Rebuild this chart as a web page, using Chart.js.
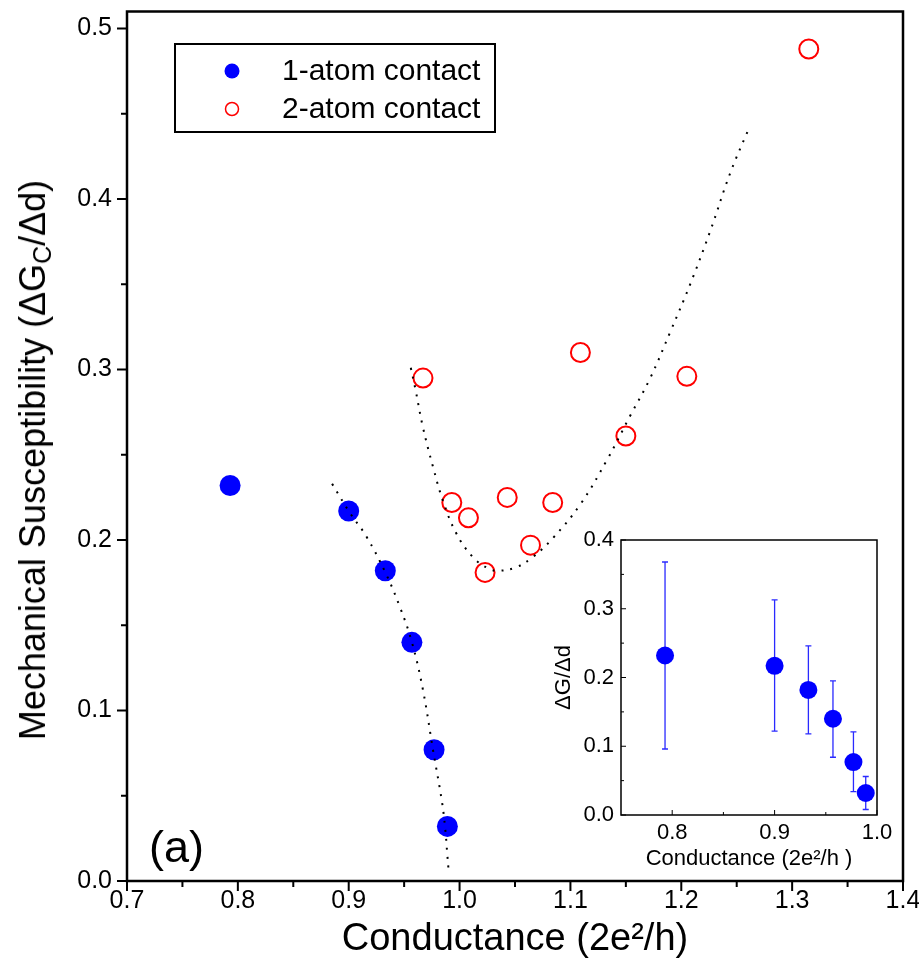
<!DOCTYPE html>
<html lang="en">
<head>
<meta charset="utf-8">
<title>Mechanical susceptibility vs conductance</title>
<script src="https://cdn.jsdelivr.net/npm/chart.js@4.4.1/dist/chart.umd.min.js"></script>
<style>
    html, body { margin: 0; padding: 0; background: #fff; }
    #wrap { position: relative; width: 919px; height: 973px; overflow: hidden; font-family: "Liberation Sans", Arial, sans-serif; color: #000; }
    #mainChart, #insetChart { position: absolute; }
    #mainChart { left: 0; top: 0; }
    #insetChart { left: 545px; top: 520px; }
    #yTitle { position: absolute; left: 33px; top: 460px; transform: translate(-50%, -50%) rotate(-90deg); font-size: 36px; line-height: 1; white-space: nowrap; }
    #yTitle sub { font-size: 25px; vertical-align: -6px; line-height: 0; }
    #panelLabel { position: absolute; left: 149px; top: 824px; font-size: 45px; line-height: 1; }
</style>
</head>
<body>
<div id="wrap">
    <canvas id="mainChart" width="919" height="973"></canvas>
    <canvas id="insetChart" width="350" height="360"></canvas>
    <div id="yTitle">Mechanical Susceptibility (ΔG<sub>C</sub>/Δd)</div>
    <div id="panelLabel">(a)</div>
</div>
<script>
// ---- data ----
// 1-atom contacts: conductance (2e^2/h) and susceptibility
const oneAtomG = [0.793, 0.900, 0.933, 0.957, 0.977, 0.989];
const oneAtomS = [0.232, 0.217, 0.182, 0.140, 0.077, 0.032];
// spread of the 1-atom values (inset error bars)
const oneAtomLow  = [0.096, 0.122, 0.118, 0.084, 0.034, 0.008];
const oneAtomHigh = [0.368, 0.313, 0.246, 0.195, 0.121, 0.056];

// 2-atom contacts
const twoAtomG = [0.967, 0.993, 1.008, 1.023, 1.043, 1.064, 1.084, 1.109, 1.150, 1.205, 1.315];
const twoAtomS = [0.295, 0.222, 0.213, 0.181, 0.225, 0.197, 0.222, 0.310, 0.261, 0.296, 0.488];

// dotted guide curves
const fitOneG = [0.885, 0.901, 0.916, 0.933, 0.946, 0.957, 0.967, 0.976, 0.984, 0.987, 0.989, 0.990];
const fitOneS = [0.233, 0.216, 0.202, 0.181, 0.161, 0.140, 0.112, 0.077, 0.047, 0.031, 0.015, 0.007];
const fitTwoG = [0.956, 0.960, 0.967, 0.976, 0.985, 0.997, 1.012, 1.027, 1.036, 1.051, 1.066, 1.084,
                 1.109, 1.133, 1.154, 1.172, 1.190, 1.208, 1.226, 1.244, 1.262];
const fitTwoS = [0.301, 0.289, 0.266, 0.243, 0.223, 0.204, 0.190, 0.183, 0.182, 0.184, 0.190, 0.201,
                 0.221, 0.247, 0.273, 0.295, 0.322, 0.350, 0.381, 0.415, 0.443];

// tick values
const mainXTicks = [0.7, 0.8, 0.9, 1.0, 1.1, 1.2, 1.3, 1.4];
const mainXMinor = [0.75, 0.85, 0.95, 1.05, 1.15, 1.25, 1.35];
const mainYTicks = [0.0, 0.1, 0.2, 0.3, 0.4, 0.5];
const mainYMinor = [0.05, 0.15, 0.25, 0.35, 0.45];
const insetXTicks = [0.8, 0.9, 1.0];
const insetXMinor = [0.85, 0.95];
const insetYTicks = [0.0, 0.1, 0.2, 0.3, 0.4];
const insetYMinor = [0.05, 0.15, 0.25, 0.35];

const toPoints = (xs, ys) => xs.map((x, i) => ({ x: x, y: ys[i] }));
const fmt = v => Number(v).toFixed(1);

Chart.defaults.font.family = '"Liberation Sans", Arial, sans-serif';
Chart.defaults.color = '#000';

// ---- plugins ----

// box around the plot area plus major/minor tick marks
const axisFrame = {
    id: 'axisFrame',
    afterDraw(chart, args, opts) {
        const { ctx, chartArea: a, scales: { x, y } } = chart;
        const dir = opts.inside ? -1 : 1;
        ctx.save();
        ctx.strokeStyle = '#000';
        ctx.lineWidth = opts.tickWidth;
        ctx.beginPath();
        const tickX = (vals, len) => vals.forEach(v => {
            const px = x.getPixelForValue(v);
            ctx.moveTo(px, a.bottom);
            ctx.lineTo(px, a.bottom + dir * len);
        });
        const tickY = (vals, len) => vals.forEach(v => {
            const py = y.getPixelForValue(v);
            ctx.moveTo(a.left, py);
            ctx.lineTo(a.left - dir * len, py);
        });
        tickX(opts.xMajor, opts.majorLen);
        tickX(opts.xMinor, opts.minorLen);
        tickY(opts.yMajor, opts.majorLen);
        tickY(opts.yMinor, opts.minorLen);
        ctx.stroke();
        ctx.lineWidth = opts.frameWidth;
        ctx.strokeRect(a.left, a.top, a.right - a.left, a.bottom - a.top);
        ctx.restore();
    }
};

// framed legend inside the plot
const boxLegend = {
    id: 'boxLegend',
    afterDraw(chart, args, opts) {
        const ctx = chart.ctx;
        const items = chart.data.datasets.filter(d => !d.isGuide);
        ctx.save();
        ctx.strokeStyle = '#000';
        ctx.lineWidth = 2;
        ctx.strokeRect(opts.left, opts.top, opts.width, opts.height);
        ctx.font = opts.fontSize + 'px "Liberation Sans", Arial, sans-serif';
        ctx.textBaseline = 'middle';
        ctx.fillStyle = '#000';
        items.forEach((d, i) => {
            const cy = opts.firstRow + i * opts.rowGap;
            ctx.beginPath();
            if (d.pointBorderWidth > 0) {
                ctx.arc(opts.markerX, cy, opts.openRadius, 0, Math.PI * 2);
                ctx.strokeStyle = d.pointBorderColor;
                ctx.lineWidth = 1.5;
                ctx.stroke();
            } else {
                ctx.arc(opts.markerX, cy, opts.filledRadius, 0, Math.PI * 2);
                ctx.fillStyle = d.pointBackgroundColor;
                ctx.fill();
            }
            ctx.fillStyle = '#000';
            ctx.fillText(d.label, opts.textX, cy + 1);
        });
        ctx.restore();
    }
};

// vertical error bars with small caps
const errorBars = {
    id: 'errorBars',
    beforeDatasetsDraw(chart, args, opts) {
        const { ctx, scales: { x, y } } = chart;
        ctx.save();
        ctx.strokeStyle = opts.color;
        ctx.lineWidth = opts.width;
        ctx.beginPath();
        opts.xs.forEach((g, i) => {
            const px = x.getPixelForValue(g);
            const lo = y.getPixelForValue(opts.low[i]);
            const hi = y.getPixelForValue(opts.high[i]);
            ctx.moveTo(px, lo); ctx.lineTo(px, hi);
            ctx.moveTo(px - opts.cap, lo); ctx.lineTo(px + opts.cap, lo);
            ctx.moveTo(px - opts.cap, hi); ctx.lineTo(px + opts.cap, hi);
        });
        ctx.stroke();
        ctx.restore();
    }
};

// ---- main plot ----
new Chart(document.getElementById('mainChart'), {
    type: 'scatter',
    data: {
        datasets: [
            {
                label: 'fit 1', isGuide: true,
                data: toPoints(fitOneG, fitOneS),
                showLine: true, fill: false, tension: 0.4,
                borderColor: '#000', borderWidth: 2, borderDash: [2, 7],
                pointRadius: 0, order: 0
            },
            {
                label: 'fit 2', isGuide: true,
                data: toPoints(fitTwoG, fitTwoS),
                showLine: true, fill: false, tension: 0.4,
                borderColor: '#000', borderWidth: 2, borderDash: [2, 7],
                pointRadius: 0, order: 0
            },
            {
                label: '1-atom contact',
                data: toPoints(oneAtomG, oneAtomS),
                pointRadius: 10.5, pointBackgroundColor: '#0000ff',
                pointBorderColor: '#0000ff', pointBorderWidth: 0, order: 1
            },
            {
                label: '2-atom contact',
                data: toPoints(twoAtomG, twoAtomS),
                pointRadius: 9.5, pointBackgroundColor: 'rgba(0,0,0,0)',
                pointBorderColor: '#ff0000', pointBorderWidth: 2, order: 1
            }
        ]
    },
    options: {
        responsive: false,
        animation: false,
        devicePixelRatio: 1,
        layout: { padding: { top: 10, right: 16, bottom: 0, left: 0 } },
        plugins: {
            legend: { display: false },
            tooltip: { enabled: false },
            axisFrame: {
                frameWidth: 2.5, tickWidth: 2, majorLen: 10, minorLen: 6, inside: false,
                xMajor: mainXTicks, xMinor: mainXMinor, yMajor: mainYTicks, yMinor: mainYMinor
            },
            boxLegend: {
                left: 175, top: 44, width: 320, height: 88, fontSize: 30,
                markerX: 232, textX: 282, firstRow: 71, rowGap: 38,
                filledRadius: 7.5, openRadius: 6.5
            }
        },
        scales: {
            x: {
                type: 'linear', min: 0.7, max: 1.4,
                grid: { display: false, drawTicks: false },
                border: { display: false },
                ticks: { padding: 5, font: { size: 25 }, callback: fmt },
                afterBuildTicks: s => { s.ticks = mainXTicks.map(v => ({ value: v })); },
                afterFit: s => { s.height = 92; s.paddingLeft = 0; s.paddingRight = 0; },
                title: { display: true, text: 'Conductance (2e²/h)', font: { size: 38 }, padding: { top: 0, bottom: 11 } }
            },
            y: {
                type: 'linear', min: 0, max: 0.51,
                grid: { display: false, drawTicks: false },
                border: { display: false },
                ticks: { padding: 15, font: { size: 25 }, callback: fmt },
                afterBuildTicks: s => { s.ticks = mainYTicks.map(v => ({ value: v })); },
                afterFit: s => { s.width = 127; s.paddingTop = 0; s.paddingBottom = 0; }
            }
        }
    },
    plugins: [axisFrame, boxLegend]
});

// ---- inset: 1-atom values with their spread ----
new Chart(document.getElementById('insetChart'), {
    type: 'scatter',
    data: {
        datasets: [{
            label: '1-atom contact',
            data: toPoints(oneAtomG, oneAtomS),
            pointRadius: 9, pointBackgroundColor: '#0000ff',
            pointBorderColor: '#0000ff', pointBorderWidth: 0
        }]
    },
    options: {
        responsive: false,
        animation: false,
        devicePixelRatio: 1,
        layout: { padding: { top: 20, right: 18, bottom: 0, left: 0 } },
        plugins: {
            legend: { display: false },
            tooltip: { enabled: false },
            axisFrame: {
                frameWidth: 1.5, tickWidth: 1, majorLen: 5, minorLen: 3, inside: true,
                xMajor: insetXTicks, xMinor: insetXMinor, yMajor: insetYTicks, yMinor: insetYMinor
            },
            errorBars: {
                xs: oneAtomG, low: oneAtomLow, high: oneAtomHigh,
                color: '#2a2aff', width: 1.3, cap: 3
            }
        },
        scales: {
            x: {
                type: 'linear', min: 0.75, max: 1.0,
                grid: { display: false, drawTicks: false },
                border: { display: false },
                ticks: { padding: 5, font: { size: 22 }, callback: fmt },
                afterBuildTicks: s => { s.ticks = insetXTicks.map(v => ({ value: v })); },
                afterFit: s => { s.height = 65; s.paddingLeft = 0; s.paddingRight = 0; },
                title: { display: true, text: 'Conductance (2e²/h )', font: { size: 22 }, padding: { top: 0, bottom: 8 } }
            },
            y: {
                type: 'linear', min: 0, max: 0.4,
                grid: { display: false, drawTicks: false },
                border: { display: false },
                ticks: { padding: 7, font: { size: 22 }, callback: fmt },
                afterBuildTicks: s => { s.ticks = insetYTicks.map(v => ({ value: v })); },
                afterFit: s => { s.width = 76; s.paddingTop = 0; s.paddingBottom = 0; },
                title: { display: true, text: 'ΔG/Δd', font: { size: 22 }, padding: { top: 6, bottom: 0 } }
            }
        }
    },
    plugins: [errorBars, axisFrame]
});
</script>
</body>
</html>
